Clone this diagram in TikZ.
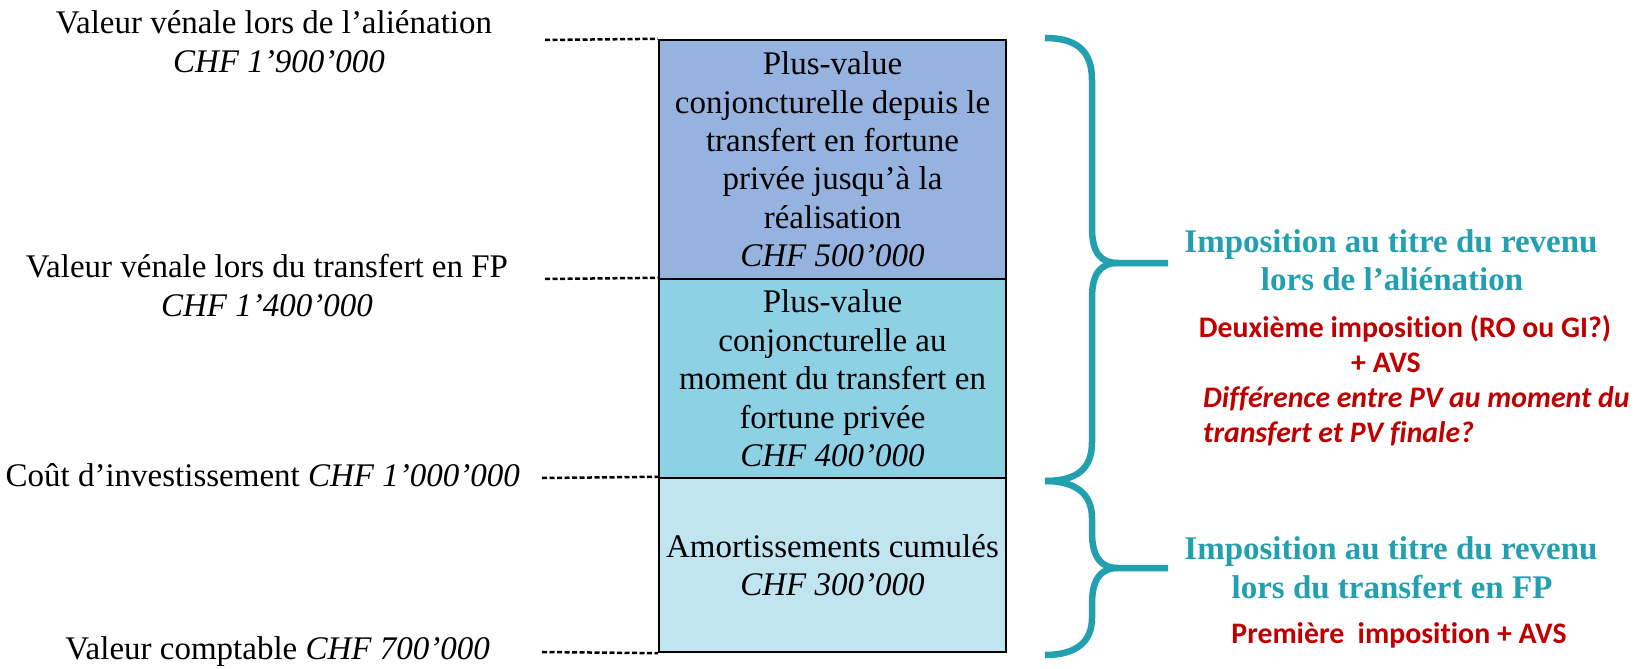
\documentclass[tikz,border=0pt]{standalone}
\usepackage{fontspec}
\setmainfont{Liberation Serif}
\newfontfamily\redsans[Ligatures={NoCommon}]{Carlito}
\definecolor{boxA}{RGB}{149,179,222}
\definecolor{boxB}{RGB}{142,208,228}
\definecolor{boxC}{RGB}{192,228,240}
\definecolor{tealc}{RGB}{34,160,175}
\definecolor{redc}{RGB}{192,0,0}
\begin{document}
\begin{tikzpicture}[x=1pt,y=-1pt,
  tnr/.style={font=\fontsize{33}{38.4}\selectfont, inner sep=0pt},
  boxst/.style={draw=black, line width=2.4pt, inner sep=0pt, align=center,
    font=\fontsize{33}{38.4}\selectfont, minimum width=347pt},
  headst/.style={text=tealc, font=\fontsize{33}{38}\selectfont\bfseries, inner sep=0pt, anchor=base},
  redst/.style={text=redc, font=\redsans\fontsize{29.8}{35}\selectfont\bfseries, inner sep=0pt},
  dashst/.style={draw=black, line width=2.5pt, dash pattern=on 5pt off 2.5pt},
  bracest/.style={draw=tealc, line width=6.5pt, line join=round}]
\useasboundingbox (0,0) rectangle (1641,669);
\fill[white] (0,0) rectangle (1641,669);

% stacked boxes
\node[boxst, fill=boxA, minimum height=239pt] (b1) at (832.5,159.5)
  {Plus-value\\conjoncturelle depuis le\\transfert en fortune\\privée jusqu’à la\\réalisation\\\textit{CHF 500’000}};
\node[boxst, fill=boxB, minimum height=199pt] (b2) at (832.5,378.5)
  {Plus-value\\conjoncturelle au\\moment du transfert en\\fortune privée\\\textit{CHF 400’000}};
\node[boxst, fill=boxC, minimum height=174pt] (b3) at (832.5,565)
  {Amortissements cumulés\\\textit{CHF 300’000}};

% left labels
\node[tnr, anchor=base] (l1a) at (274,34) {Valeur vénale lors de l’aliénation};
\node[tnr, anchor=base] (l1b) at (279,72.5) {\itshape CHF 1’900’000};
\node[tnr, anchor=base] (l2a) at (267,277) {Valeur vénale lors du transfert en FP};
\node[tnr, anchor=base] (l2b) at (267,316) {\itshape CHF 1’400’000};
\node[tnr, anchor=base east] (l3) at (520,486) {Coût d’investissement \textit{CHF 1’000’000}};
\node[tnr, anchor=base east] (l4) at (490,659) {Valeur comptable \textit{CHF 700’000}};

% dashed leaders
\coordinate (d1) at (545,40);
\coordinate (d2) at (545,279);
\coordinate (d3) at (542,478);
\coordinate (d4) at (542,652);
\draw[dashst] (d1) -- (b1.north west);
\draw[dashst] (d2) -- (b2.north west);
\draw[dashst] (d3) -- (b3.north west);
\draw[dashst] (d4) -- (b3.south west);

% braces
\coordinate (t1) at (1168,263);
\coordinate (t2) at (1168,568);
\draw[bracest] (1045,38) .. controls (1078,38) and (1092,52) .. (1092,80)
  -- (1092,228) .. controls (1092,252) and (1100,263) .. (1118,263) -- (t1);
\draw[bracest] (1118,263) .. controls (1100,263) and (1092,274) .. (1092,298)
  -- (1092,442) .. controls (1092,468) and (1078,481) .. (1045,481);
\draw[bracest] (1045,481) .. controls (1076,481) and (1092,494) .. (1092,518)
  -- (1092,532) .. controls (1092,556) and (1100,568) .. (1118,568) -- (t2);
\draw[bracest] (1118,568) .. controls (1100,568) and (1092,580) .. (1092,604)
  -- (1092,618) .. controls (1092,642) and (1076,655) .. (1045,655);

% right texts
\node[headst] (h1a) at (1391,252) {Imposition au titre du revenu};
\node[headst] (h1b) at (1392,290) {lors de l’aliénation};
\node[redst, anchor=base] (r1) at (1405,337) {Deuxième imposition (RO ou GI?)};
\node[redst, anchor=base] (r2) at (1386,372) {+ AVS};
\node[redst, anchor=base west] (r3) at (1203,407) {\itshape Différence entre PV au moment du};
\node[redst, anchor=base west] (r4) at (1203,442) {\itshape transfert et PV finale?};
\node[headst] (h2a) at (1391,559) {Imposition au titre du revenu};
\node[headst] (h2b) at (1392,598) {lors du transfert en FP};
\node[redst, anchor=base] (r5) at (1399,643) {Première\ \ imposition + AVS};
\end{tikzpicture}
\end{document}
